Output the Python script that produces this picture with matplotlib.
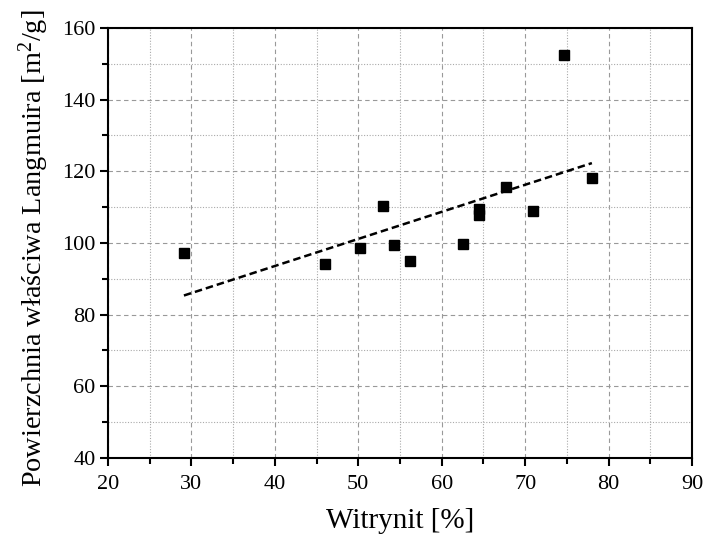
import numpy as np
import matplotlib
matplotlib.use('Agg')
import matplotlib.pyplot as plt
from matplotlib.ticker import MultipleLocator

plt.rcParams['font.family'] = ['Liberation Serif', 'DejaVu Serif']
plt.rcParams['mathtext.fontset'] = 'custom'
plt.rcParams['mathtext.rm'] = 'Liberation Serif'
plt.rcParams['mathtext.it'] = 'Liberation Serif:italic'

# vitrinite content [%] and Langmuir surface area [m2/g]
witrynit = [29.1, 46.0, 50.2, 53.0, 54.3, 56.2, 62.6, 64.5, 64.5, 67.7, 70.9, 74.6, 78.0]
langmuir = [97.2, 94.0, 98.7, 110.3, 99.4, 95.1, 99.7, 107.8, 109.5, 115.7, 108.8, 152.4, 118.1]

# linear fit drawn over the data range
slope, intercept = np.polyfit(witrynit, langmuir, 1)
fit_x = np.array([min(witrynit), max(witrynit)])
fit_y = slope * fit_x + intercept

fig = plt.figure(figsize=(7.05, 5.42), dpi=100)
ax = fig.add_axes([108/705, 1 - 458/542, (692-108)/705, (458-28)/542])

ax.plot(fit_x, fit_y, '--', color='black', lw=1.8, dashes=(3, 1.6), zorder=3)
ax.plot(witrynit, langmuir, 's', color='black', ms=7.2, zorder=4)

ax.set_xlim(20, 90)
ax.set_ylim(40, 160)
ax.xaxis.set_major_locator(MultipleLocator(10))
ax.xaxis.set_minor_locator(MultipleLocator(5))
ax.yaxis.set_major_locator(MultipleLocator(20))
ax.yaxis.set_minor_locator(MultipleLocator(10))

ax.grid(which='major', color='#999999', ls=(0, (4, 3)), lw=0.8)
ax.grid(which='minor', color='#aaaaaa', ls=(0, (1, 1.5)), lw=0.8)
ax.set_axisbelow(True)

for s in ax.spines.values():
    s.set_linewidth(1.5)
ax.tick_params(which='both', direction='out', width=1.5, top=False, right=False,
               labelsize=16)
ax.tick_params(which='major', length=6)
ax.tick_params(which='minor', length=4)
ax.tick_params(axis='x', pad=6)
ax.tick_params(axis='y', pad=3)

ax.set_xlabel('Witrynit [%]', fontsize=21, labelpad=10)
ax.set_ylabel('Powierzchnia właściwa Langmuira [m$^2$/g]', fontsize=20.3, labelpad=6)
ax.yaxis.set_label_coords(-0.098, 0.488)

fig.savefig('out.png', dpi=100)
